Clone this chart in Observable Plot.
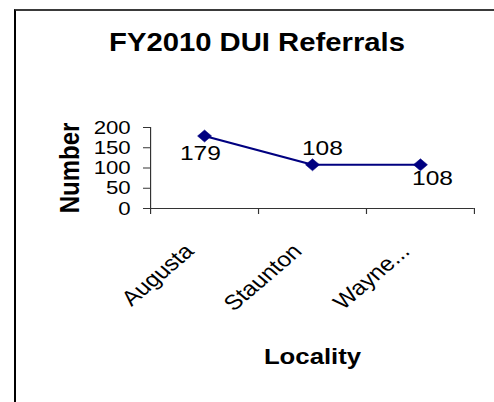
<!DOCTYPE html>
<html>
<head>
<meta charset="utf-8">
<script src="https://cdn.jsdelivr.net/npm/d3@7"></script>
<script src="https://cdn.jsdelivr.net/npm/@observablehq/plot@0.6"></script>
<style>
  html, body { margin: 0; padding: 0; background: #fff; }
  #wrap { position: relative; width: 494px; height: 402px; overflow: hidden; font-family: "Liberation Sans", Arial, sans-serif; }
  #box { position: absolute; left: 14px; top: 9px; width: 490px; height: 400px; border-left: 2px solid #000; border-top: 2px solid #3a3a3a; box-sizing: border-box; }
  #title { position: absolute; left: 0; top: 28px; width: 514px; text-align: center; font-weight: bold; font-size: 25px; color: #000; transform: scaleX(1.17); transform-origin: 257px 0; white-space: nowrap; }
  #chart { position: absolute; left: 0; top: 0; }
  #chart svg { transform: scaleX(1.17); transform-origin: 0 0; }
</style>
</head>
<body>
<div id="wrap">
  <div id="box"></div>
  <div id="title">FY2010 DUI Referrals</div>
  <div id="chart"></div>
</div>
<script>
const categories = ["Augusta", "Staunton", "Wayne..."];
const values = [179, 108, 108];
const yTicks = [0, 50, 100, 150, 200];
const yLabel = "Number";
const xLabel = "Locality";

const rows = categories.map((c, i) => ({cat: c, x: i + 0.5, value: values[i], i}));
const navy = "#000080";

const valueText = (filter, dx, dy) => Plot.text(rows, {
  filter, x: "x", y: "value", text: d => String(d.value),
  dx, dy, fontSize: 21, fill: "#000", lineAnchor: "middle"
});

const chart = Plot.plot({
  width: 422,
  height: 402,
  marginLeft: 128.2,
  marginRight: 17,
  marginTop: 127,
  marginBottom: 194,
  style: {background: "transparent", fontFamily: "'Liberation Sans', Arial, sans-serif", color: "#000", overflow: "visible"},
  x: {type: "linear", domain: [0, categories.length]},
  y: {domain: [0, 200]},
  marks: [
    Plot.ruleX([0], {y1: 0, y2: 200, stroke: "#333", strokeWidth: 1}),
    Plot.ruleY([0], {stroke: "#333", strokeWidth: 1}),
    Plot.axisY({ticks: yTicks, tickSize: 6, tickPadding: 11, fontSize: 19, label: null, stroke: "#333"}),
    Plot.axisX({ticks: d3.range(categories.length + 1), tickSize: 6, tickFormat: () => "", label: null, stroke: "#333"}),
    Plot.line(rows, {x: "x", y: "value", stroke: navy, strokeWidth: 2}),
    Plot.dot(rows, {x: "x", y: "value", symbol: "diamond2", r: 5.4, fill: navy, stroke: navy, strokeWidth: 0.5}),
    valueText(d => d.i === 0, -3.5, 17),
    valueText(d => d.i === 1, 8.5, -16),
    valueText(d => d.i === 2, 10.3, 14),
    Plot.text(rows, {x: "x", frameAnchor: "bottom", text: "cat", rotate: -45, textAnchor: "end", lineAnchor: "top", dx: -18.5, dy: 33.5, fontSize: 21, fill: "#000"}),
    Plot.text([yLabel], {frameAnchor: "left", text: d => d, rotate: -90, textAnchor: "middle", lineAnchor: "middle", dx: -69, fontSize: 24, fontWeight: "bold", fill: "#000"}),
    Plot.text([xLabel], {frameAnchor: "bottom", text: d => d, textAnchor: "middle", dy: 155, fontSize: 22, fontWeight: "bold", fill: "#000"})
  ]
});
document.getElementById("chart").appendChild(chart);
</script>
</body>
</html>
